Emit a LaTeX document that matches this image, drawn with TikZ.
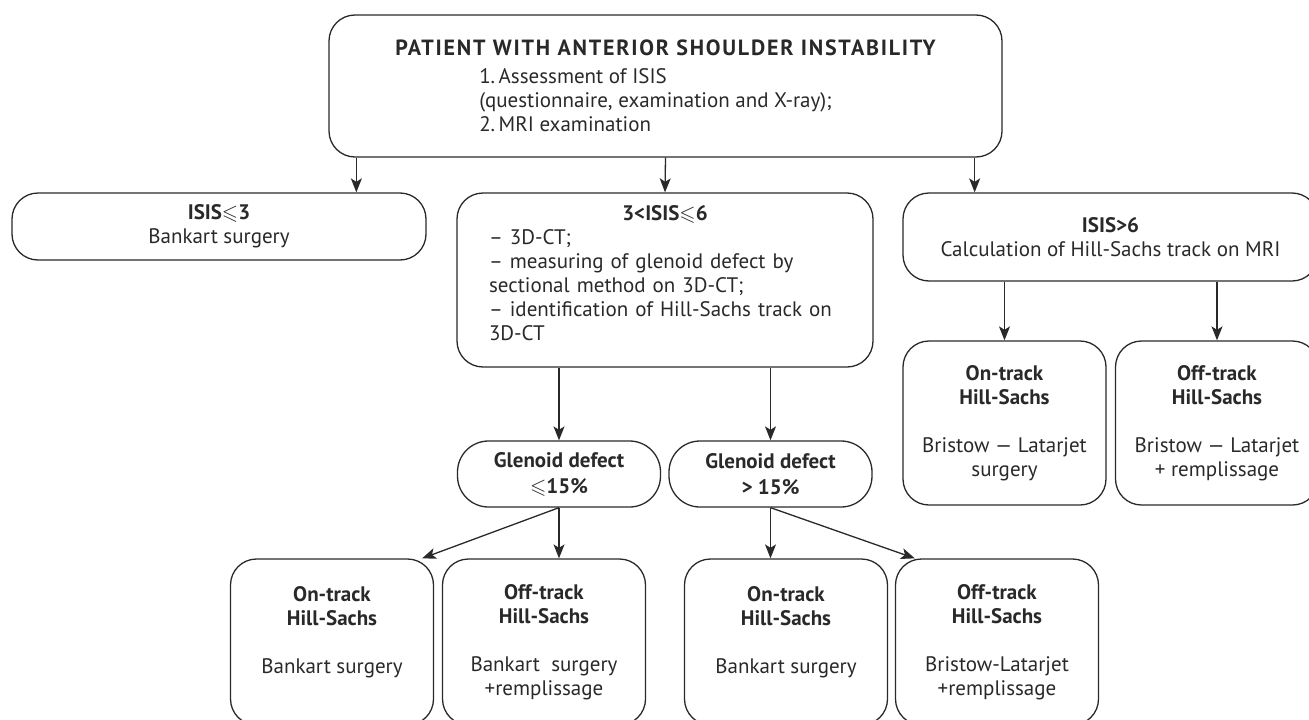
\documentclass[tikz,border=0pt]{standalone}
\usepackage{amssymb}
\usepackage{amsmath}
\usepackage{fontspec}
\setmainfont{PT Sans}
\newfontfamily\titlefont[LetterSpace=8]{PT Sans}
\usetikzlibrary{calc, arrows.meta}
\newcommand{\lesl}{\ensuremath{\boldsymbol{\leqslant}}}
\definecolor{ink}{rgb}{0.16,0.16,0.16}

\begin{document}
\begin{tikzpicture}[x=1pt, y=-1pt, font=\fontsize{21}{24}\selectfont,
    every node/.style={text=ink},
    box/.style={draw=ink, line width=1.3pt, rounded corners=26pt, align=center, inner sep=0pt},
    pill/.style={box, rounded corners=31pt, minimum width=203, minimum height=66},
    leaf/.style={box, minimum width=203, minimum height=166},
    arr/.style={draw=ink, line width=1.3pt, -{Stealth[length=14pt,width=11pt,inset=3.5pt]}}]
        \useasboundingbox (0,0) rectangle (1309,720);
        \clip (0,0) rectangle (1309,720);
        \node[box, align=left, minimum width=673, minimum height=142] (top) at (665.5,86)
            {{\titlefont\fontsize{22}{24}\selectfont\bfseries PATIENT WITH ANTERIOR SHOULDER INSTABILITY}\\[4pt]
             \hspace*{84pt}1.\,Assessment of ISIS\\
             \hspace*{84pt}(questionnaire, examination and X-ray);\\
             \hspace*{84pt}2.\,MRI examination};
        \node[box, minimum width=414, minimum height=67] (low) at (219,226.5)
            {\textbf{ISIS\lesl3}\\Bankart surgery};
        \node[box, align=left, text width=352, minimum width=416, minimum height=174] (mid) at (665,280)
            {\makebox[\hsize][c]{\bfseries 3<ISIS\lesl6}\\
             – 3D-CT;\\
             – measuring of glenoid defect by\\
             sectional method on 3D-CT;\\
             – identification of Hill-Sachs track on\\
             3D-CT\rule[-14pt]{0pt}{0pt}};
        \node[box, minimum width=415, minimum height=88] (high) at (1110.5,237)
            {\textbf{ISIS>6}\\Calculation of Hill-Sachs track on MRI};
        \node[pill] (gl) at (559,474) {\textbf{Glenoid defect}\\[2pt]\textbf{\lesl15\%}};
        \node[pill] (gh) at (770.5,474) {\textbf{Glenoid defect}\\[2pt]\textbf{> 15\%}};
        \node[leaf] (on1) at (332,642) {\textbf{On-track}\\\textbf{Hill-Sachs}\\[24pt]Bankart surgery\\\mbox{}};
        \node[leaf] (off1) at (544,642) {\textbf{Off-track}\\\textbf{Hill-Sachs}\\[24pt]Bankart\ \ surgery\\+remplissage};
        \node[leaf] (on2) at (786,642) {\textbf{On-track}\\\textbf{Hill-Sachs}\\[24pt]Bankart surgery\\\mbox{}};
        \node[leaf] (off2) at (997,642) {\textbf{Off-track}\\\textbf{Hill-Sachs}\\[24pt]Bristow-Latarjet\\+remplissage};
        \node[leaf, minimum height=164] (on3) at (1004.5,423) {\textbf{On-track}\\\textbf{Hill-Sachs}\\[24pt]Bristow — Latarjet\\surgery};
        \node[leaf, minimum height=164] (off3) at (1217,423) {\textbf{Off-track}\\\textbf{Hill-Sachs}\\[24pt]Bristow — Latarjet\\+ remplissage};
        \draw[arr] ([xshift=28]top.south west) coordinate (a1) -- (a1 |- low.north);
        \draw[arr] (top.south) -- (mid.north);
        \draw[arr] ([xshift=-28]top.south east) coordinate (a3) -- (a3 |- high.north);
        \draw[arr] (gl.north |- mid.south) -- (gl.north);
        \draw[arr] (gh.north |- mid.south) -- (gh.north);
        \draw[arr] (gl.south) -- ([xshift=-12]on1.north east);
        \draw[arr] (gl.south) -- (gl.south |- off1.north);
        \draw[arr] (gh.south) -- (gh.south |- on2.north);
        \draw[arr] (gh.south) -- ([xshift=20]off2.north west);
        \draw[arr] (on3.north |- high.south) -- (on3.north);
        \draw[arr] (off3.north |- high.south) -- (off3.north);
\end{tikzpicture}
\end{document}
